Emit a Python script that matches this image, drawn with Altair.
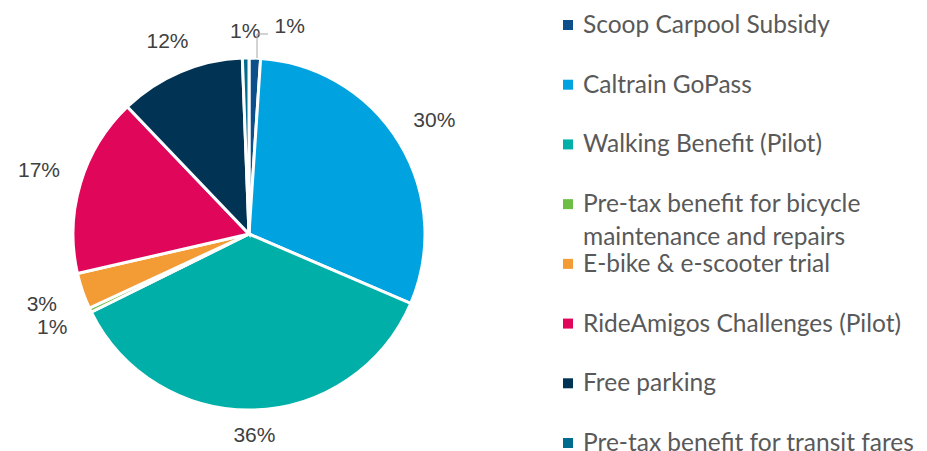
import altair as alt
import pandas as pd

categories = [
    "Scoop Carpool Subsidy",
    "Caltrain GoPass",
    "Walking Benefit (Pilot)",
    "Pre-tax benefit for bicycle\nmaintenance and repairs",
    "E-bike & e-scooter trial",
    "RideAmigos Challenges (Pilot)",
    "Free parking",
    "Pre-tax benefit for transit fares",
]
shares = [1.05, 30.3, 36.1, 0.4, 3.3, 16.4, 11.5, 0.6]
labels = ["1%", "30%", "36%", "1%", "3%", "17%", "12%", "1%"]
colors = ["#0C4F8A", "#00A3E0", "#00AFA8", "#6CBE45", "#F39C36", "#E00659", "#003354", "#006D8F"]

df = pd.DataFrame({
    "category": categories,
    "share": shares,
    "label": labels,
    "idx": list(range(len(categories))),
})

color_scale = alt.Scale(domain=categories, range=colors)
CX, CY = 241, 226

base = alt.Chart(df)

arc = base.mark_arc(radius=176, stroke="white", strokeWidth=3).encode(
    theta=alt.Theta("share:Q", stack=True),
    color=alt.Color("category:N", scale=color_scale, legend=None),
    order=alt.Order("idx:Q"),
    x=alt.value(CX),
    y=alt.value(CY),
)

lab_base = base.transform_joinaggregate(total="sum(share)").transform_window(
    cum="sum(share)", sort=[alt.SortField("idx")]
).transform_calculate(
    mid="2*PI*(datum.cum - datum.share/2)/datum.total",
).transform_calculate(
    lr="202 + 18*abs(sin(datum.mid))",
)

txt = lab_base.transform_filter("datum.idx != 0").mark_text(
    font="Liberation Sans", fontSize=21, color="#404040", align="center", baseline="middle"
).encode(
    theta=alt.Theta("mid:Q", scale=None),
    radius=alt.Radius("lr:Q", scale=None),
    text="label:N",
    x=alt.value(CX),
    y=alt.value(CY),
)

scoop = lab_base.transform_filter("datum.idx == 0").mark_text(
    font="Liberation Sans", fontSize=21, color="#404040", align="center", baseline="middle",
    dx=34, dy=-5,
).encode(
    theta=alt.Theta("mid:Q", scale=None),
    radius=alt.Radius("lr:Q", scale=None),
    text="label:N",
    x=alt.value(CX),
    y=alt.value(CY),
)

one = pd.DataFrame({"a": [0]})
lead_v = alt.Chart(one).mark_rule(color="#A6A6A6", strokeWidth=1).encode(
    x=alt.value(249), y=alt.value(26), y2=alt.value(50)
)
lead_h = alt.Chart(one).mark_rule(color="#A6A6A6", strokeWidth=1).encode(
    x=alt.value(249), x2=alt.value(260), y=alt.value(26)
)

pie = alt.layer(arc, txt, scoop, lead_v, lead_h).properties(width=540, height=435)

ypos = alt.Y("idx:Q", scale=alt.Scale(domain=[0, 7], range=[17, 435]), axis=None)
leg = alt.Chart(df)
sq = leg.mark_square(size=100, opacity=1, filled=True).encode(
    x=alt.value(20),
    y=ypos,
    color=alt.Color("category:N", scale=color_scale, legend=None),
)
lt = leg.mark_text(
    align="left", baseline="top", dy=-11, font="Lato", fontSize=24.5,
    color="#595959", lineBreak="\n", lineHeight=33,
).encode(x=alt.value(35), y=ypos, text="category:N")
legend = alt.layer(sq, lt).properties(width=370, height=435)

chart = alt.hconcat(pie, legend, spacing=0).properties(padding=0).configure_view(stroke=None)

chart.save("out.html", embed_options={"renderer": "svg", "actions": False})
